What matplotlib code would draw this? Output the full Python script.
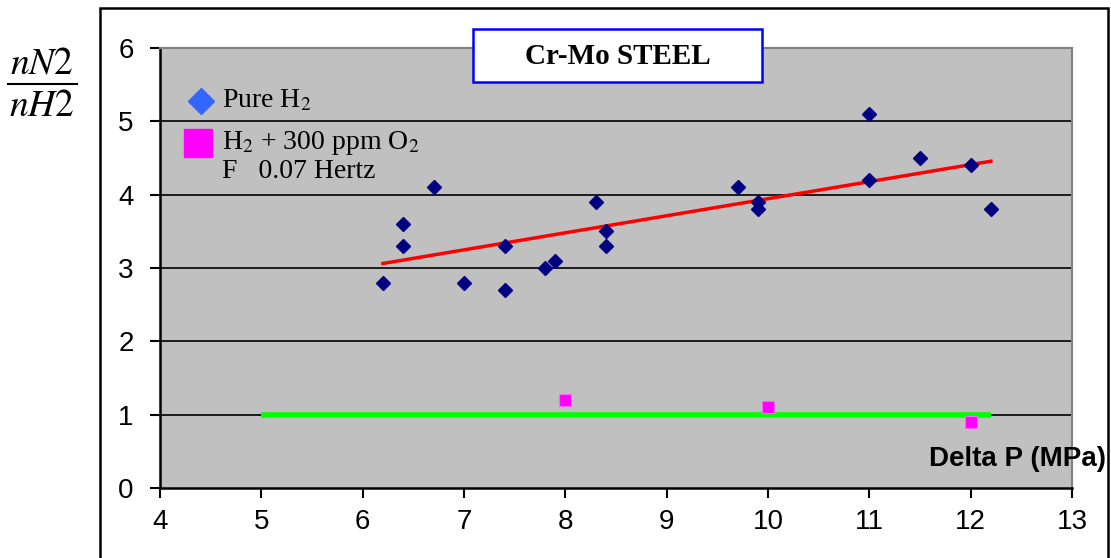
import numpy as np
import matplotlib.pyplot as plt
from matplotlib.patches import Rectangle
from matplotlib.lines import Line2D

# Pure H2 measurements
pure_dp = [6.2, 6.4, 6.4, 6.7, 7.0, 7.4, 7.4, 7.8, 7.9, 8.3, 8.4, 8.4,
           9.7, 9.9, 9.9, 11.0, 11.0, 11.5, 12.0, 12.2]
pure_ratio = [2.8, 3.6, 3.3, 4.1, 2.8, 3.3, 2.7, 3.0, 3.1, 3.9, 3.5, 3.3,
              4.1, 3.9, 3.8, 5.1, 4.2, 4.5, 4.4, 3.8]

# H2 + 300 ppm O2
o2_dp = [8.0, 10.0, 12.0]
o2_ratio = [1.2, 1.1, 0.9]

# reference line at ratio = 1
ref_dp = [5.0, 12.2]
ref_ratio = [1.0, 1.0]

xticks = [4, 5, 6, 7, 8, 9, 10, 11, 12, 13]
yticks = [0, 1, 2, 3, 4, 5, 6]

serif = ['Liberation Serif', 'DejaVu Serif']
sans = ['Liberation Sans', 'DejaVu Sans']
plt.rcParams['mathtext.fontset'] = 'stix'

W, H = 1111, 558
fig = plt.figure(figsize=(W / 100, H / 100), dpi=100)
ax = fig.add_axes([160 / W, 1 - 488 / H, 912 / W, 440 / H])
ax.set_facecolor('#c0c0c0')

# outer frame
fig.patches.append(Rectangle((100 / W, -0.05), 1008 / W, 1 - 8 / H + 0.05,
                             transform=fig.transFigure, fill=False,
                             edgecolor='black', lw=1.8, zorder=0))

for y in yticks[1:-1]:
    ax.axhline(y, color='black', lw=1.2, zorder=1)

ax.plot(ref_dp, ref_ratio, color='#00ff00', lw=4, zorder=2, solid_capstyle='butt')

# linear trend of the pure H2 data
k, b = np.polyfit(pure_dp, pure_ratio, 1)
tx = np.array([min(pure_dp), max(pure_dp)])
ax.plot(tx, k * tx + b, color='#ff0000', lw=2.5, zorder=3)

ax.plot(pure_dp, pure_ratio, 'D', color='#000080', ms=7, zorder=4)
ax.plot(o2_dp, o2_ratio, 's', color='#ff00ff', mec='#ff66ff', mew=0.8, ms=8, zorder=4)

ax.set_xlim(4, 13)
ax.set_ylim(0, 6)
ax.set_xticks(xticks)
ax.set_yticks(yticks)
ax.tick_params(direction='out', length=7, width=1.5, labelsize=20)
ax.tick_params(axis='x', pad=8)
ax.tick_params(axis='y', pad=12)
for lab in ax.get_xticklabels() + ax.get_yticklabels():
    lab.set_family(sans)
for s in ['left', 'bottom']:
    ax.spines[s].set_linewidth(1.8)
    ax.spines[s].set_color('black')
for s in ['top', 'right']:
    ax.spines[s].set_linewidth(1.5)
    ax.spines[s].set_color('#808080')

# title box
fig.patches.append(Rectangle((473 / W, 1 - 82 / H), 289 / W, 53 / H,
                             transform=fig.transFigure, facecolor='white',
                             edgecolor='#0000ff', lw=1.8, zorder=10))
fig.text(618 / W, 1 - 56 / H, 'Cr-Mo STEEL', ha='center', va='center',
         fontsize=21, fontweight='bold', family=serif, zorder=11)

# legend-like annotations
fig.add_artist(Line2D([201 / W], [1 - 101 / H], marker='D', color='#3366ff',
                      ms=13, transform=fig.transFigure))
fig.add_artist(Line2D([198 / W], [1 - 143 / H], marker='s', color='#ff00ff',
                      ms=20, transform=fig.transFigure))
fig.text(222 / W, 1 - 101 / H, 'Pure H$_2$', va='center', fontsize=20, family=serif)
fig.text(222 / W, 1 - 143 / H, 'H$_2$ + 300 ppm O$_2$', va='center',
         fontsize=20, family=serif)
fig.text(222 / W, 1 - 172 / H, 'F   0.07 Hertz', va='center', fontsize=20, family=serif)

# x-axis title inside plot
fig.text(1106 / W, 1 - 459 / H, 'Delta P (MPa)', ha='right', va='center',
         fontsize=20, fontweight='bold', family=sans, zorder=12)

# y-axis title as a fraction
fig.text(42 / W, 1 - 63 / H, '$nN2$', ha='center', va='center', fontsize=27)
fig.text(42 / W, 1 - 106 / H, '$nH2$', ha='center', va='center', fontsize=27)
fig.add_artist(Line2D([8 / W, 77 / W], [1 - 84 / H, 1 - 84 / H],
                      color='black', lw=1.5, transform=fig.transFigure))

fig.savefig('out.png', dpi=100)
